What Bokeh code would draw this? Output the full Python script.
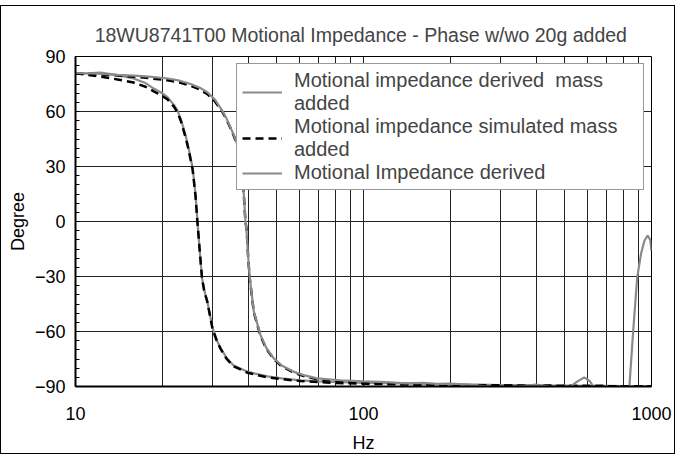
from bokeh.plotting import figure
from bokeh.models import FixedTicker, Legend, LegendItem, Range1d
from bokeh.embed import file_html
from bokeh.resources import INLINE

title_text = "18WU8741T00 Motional  Impedance - Phase w/wo 20g added"
x_label = "Hz"
y_label = "Degree"

x_major = [10, 100, 1000]
x_minor = [20, 30, 40, 50, 60, 70, 80, 90, 200, 300, 400, 500, 600, 700, 800, 900]
y_major = [-90, -60, -30, 0, 30, 60, 90]
y_minor = list(range(-90, 91, 5))

# Motional impedance derived, mass added (grey)
f_der_mass = [10, 11, 12.2, 14, 15.9, 17.5, 18.7, 20, 20.9, 22, 22.6, 23.2, 23.7, 24.2, 24.7, 25.5,
              26.1, 26.5, 27, 27.5, 28, 28.7, 29.9, 31, 31.9, 33.5, 35.4, 39.6, 46.4, 52, 60.4, 70,
              78.7, 90, 100, 120, 150, 200, 250, 300, 400, 500, 600, 700, 800, 1000]
p_der_mass = [80.5, 80.8, 81.2, 79.8, 78, 75.5, 72.5, 70, 67.7, 63.5, 60.5, 56, 51, 46, 40, 29.5,
              15, 0.5, -16, -31, -37.5, -43.6, -58, -65, -69, -74.5, -78.5, -82, -84.5, -85.6, -86.7, -87.2,
              -87.5, -87.8, -88, -88.2, -88.5, -88.8, -89, -89.2, -89.4, -89.5, -89.6, -89.7, -89.8, -89.9]

# Motional impedance simulated, mass added (black dashed)
f_sim_mass = [10, 11, 12.2, 14, 15.9, 17.5, 18.7, 20, 20.9, 22, 22.6, 23.2, 23.7, 24.2, 24.7, 25.5,
              26.1, 26.5, 27, 27.5, 28, 28.7, 29.9, 31, 31.9, 33.5, 35.4, 39.6, 46.4, 52, 60.4, 70,
              78.7, 100, 150, 200, 300, 500, 700, 1000]
p_sim_mass = [80.8, 80, 79, 77.5, 75.8, 73.5, 71, 68.5, 66.5, 62.5, 59.5, 55, 50, 45, 39, 28.5,
              14, 0, -16, -31, -38, -44, -58.5, -65.5, -69.5, -75, -79, -82.5, -85, -86, -87, -87.6,
              -88, -88.5, -89, -89.3, -89.5, -89.7, -89.8, -89.9]

# Motional impedance derived, no mass (grey)
f_der = [10, 12, 14, 15.9, 18, 20.9, 23, 25.1, 27, 28.7, 30.5, 32.3, 33.5, 34.5, 35.5, 36.4, 37.4,
         38.4, 38.9, 39.2, 39.8, 40.3, 41.6, 43.9, 46, 48.8, 52, 57.3, 62, 69, 83, 100, 120, 140,
         161, 180, 200, 230, 260, 294, 330, 370, 397, 430, 470, 522, 550, 584, 610, 630, 680, 750,
         800, 838, 864, 892, 920, 945, 970, 990, 1000]
p_der = [81, 80.6, 80, 79.6, 79, 78, 76.8, 75, 73, 70.5, 66.5, 60.5, 56, 51.4, 47, 42.4, 29.6,
         15, 0.5, -3.8, -20, -31, -49, -62, -69, -74.7, -78.5, -82, -83.8, -85.6, -86.6, -87.2, -87.6, -88.3,
         -88, -88.6, -88.4, -89, -89.8, -90.6, -90.3, -89.5, -89, -89.8, -90.8, -90.2, -87.5, -85, -87, -90.3, -91.5, -92,
         -91.5, -90, -59.5, -30.5, -17.5, -10.5, -7.6, -10, -16]

# Motional impedance simulated, no mass (black dashed)
f_sim = [10, 12, 14, 15.9, 18, 20.9, 23, 25.1, 27, 28.7, 30.5, 32.3, 33.5, 34.5, 35.5, 36.4, 37.4,
         38.4, 38.9, 39.3, 39.8, 40.3, 41.6, 43.9, 46, 48.8, 52, 57.3, 62, 69, 83, 100, 150, 200,
         300, 500, 700, 1000]
p_sim = [80.8, 80.3, 79.6, 79, 78.2, 77, 75.8, 74, 72, 69.5, 65.5, 60, 55.5, 51, 46.5, 42, 29.5,
         15, 0, -4.5, -20.5, -31.5, -49.5, -62.5, -69.5, -75, -79, -82.5, -84.3, -86, -87.3, -88, -88.8, -89.2,
         -89.5, -89.7, -89.8, -89.9]

legend_labels = ["Motional impedance derived  mass\nadded",
                 "Motional impedance simulated mass\nadded",
                 "Motional Impedance derived"]

FONT = "Liberation Sans"
GREY = "#8a8a8a"

p = figure(width=675, height=449, x_axis_type="log", output_backend="svg",
           toolbar_location=None, x_range=Range1d(10, 1000), y_range=Range1d(-90, 90),
           min_border_left=74, min_border_right=25, min_border_top=50, min_border_bottom=69)
p.styles = {"border": "1px solid black", "margin-top": "5px"}

p.title.text = title_text
p.title.text_font = FONT
p.title.text_font_size = "19.5px"
p.title.text_font_style = "normal"
p.title.align = "center"
p.title.standoff = 21

r1 = p.line(f_der_mass, p_der_mass, line_color=GREY, line_width=2.2)
r2 = p.line(f_sim_mass, p_sim_mass, line_color="black", line_width=2.5, line_dash="8 5")
r4 = p.line(f_sim, p_sim, line_color="black", line_width=2.5, line_dash="8 5")
r3 = p.line(f_der, p_der, line_color=GREY, line_width=2.2)

p.xaxis.ticker = FixedTicker(ticks=x_major, minor_ticks=x_minor)
p.yaxis.ticker = FixedTicker(ticks=y_major, minor_ticks=y_minor)
p.xaxis.major_label_overrides = {10: "10", 100: "100", 1000: "1000"}

for ax in (p.xaxis[0], p.yaxis[0]):
    ax.major_label_text_font = FONT
    ax.major_label_text_font_size = "18px"
    ax.major_label_text_color = "black"
    ax.axis_label_text_font = FONT
    ax.axis_label_text_font_size = "18px"
    ax.axis_label_text_font_style = "normal"
    ax.axis_label_text_color = "black"
    ax.axis_line_color = "black"
    ax.axis_line_width = 2

p.xaxis.axis_label = x_label
p.yaxis.axis_label = y_label
p.xaxis.major_tick_out = 0
p.xaxis.major_tick_in = 0
p.xaxis.minor_tick_out = 0
p.xaxis.minor_tick_in = 0
p.xaxis.major_label_standoff = 20
p.xaxis.axis_label_standoff = 10
p.yaxis.major_tick_out = 0
p.yaxis.major_tick_in = 4
p.yaxis.minor_tick_out = 0
p.yaxis.minor_tick_in = 4
p.yaxis.major_label_standoff = 10
p.yaxis.axis_label_standoff = 4

p.xgrid.grid_line_color = "#222222"
p.xgrid.minor_grid_line_color = "#222222"
p.ygrid.grid_line_color = "#222222"
p.outline_line_color = "black"
p.outline_line_width = 1

legend = Legend(items=[LegendItem(label=legend_labels[0], renderers=[r1]),
                       LegendItem(label=legend_labels[1], renderers=[r2]),
                       LegendItem(label=legend_labels[2], renderers=[r3])],
                location="top_right", margin=7, padding=5, spacing=-20,
                glyph_width=40, label_standoff=12, label_width=344,
                label_text_font=FONT, label_text_font_size="20px", label_text_line_height=1.2,
                border_line_color="#333333", border_line_width=1,
                background_fill_alpha=1.0)
p.add_layout(legend)

open("out.html", "w").write(file_html(p, INLINE))
